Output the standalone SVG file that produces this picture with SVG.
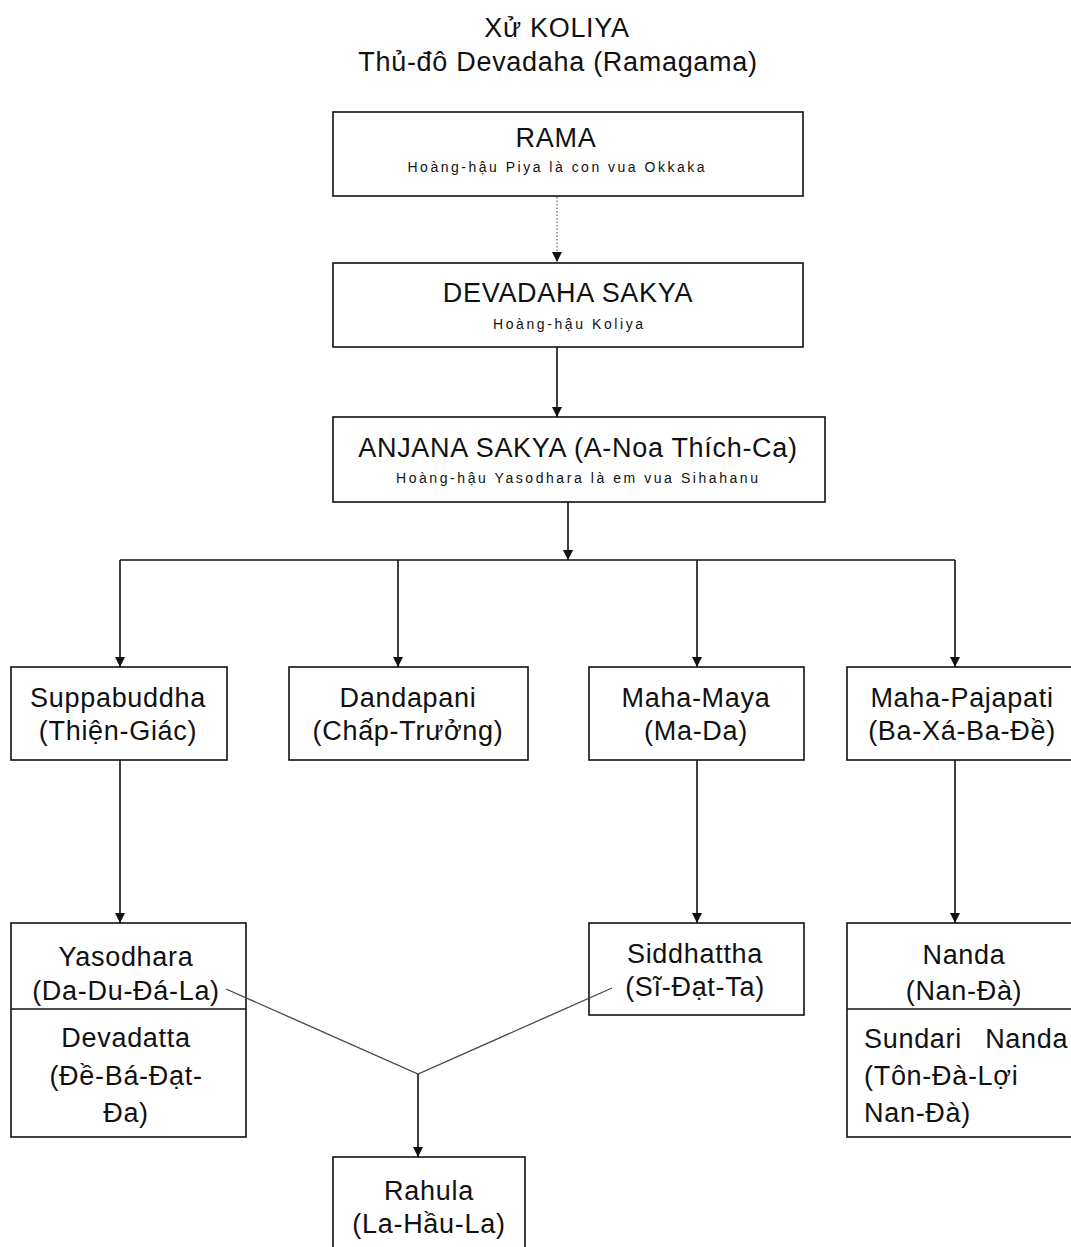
<svg xmlns="http://www.w3.org/2000/svg" width="1071" height="1247" viewBox="0 0 1071 1247">
<style>
text{font-family:"Liberation Sans",Arial,sans-serif;fill:#111;text-anchor:middle}
.t{font-size:27px;letter-spacing:0.7px}
.s{font-size:14px}
.l{text-anchor:start}
.box{fill:#fff;stroke:#111;stroke-width:1.6}
.c{fill:none;stroke:#111;stroke-width:1.6}
.d{fill:none;stroke:#666;stroke-width:1.2;stroke-dasharray:1.5 2}
.g{fill:none;stroke:#444;stroke-width:1.3}
</style>
<defs>
<marker id="ah" markerUnits="userSpaceOnUse" markerWidth="10" markerHeight="12" refX="10" refY="5" orient="auto" viewBox="0 0 10 10">
<path d="M0,0 L10,5 L0,10 z" fill="#111"/>
</marker>
</defs>
<rect width="1071" height="1247" fill="#fff"/>
<g id="title">
<text class="t" x="557" y="37">Xử KOLIYA</text>
<text class="t" x="558" y="71">Thủ-đô Devadaha (Ramagama)</text>
</g>
<g id="rama">
<rect class="box" x="333" y="112" width="470" height="84"/>
<text class="t" x="556" y="147">RAMA</text>
<text class="s" x="556" y="172" textLength="297" lengthAdjust="spacing">Hoàng-hậu Piya là con vua Okkaka</text>
</g>
<g id="devadaha">
<rect class="box" x="333" y="263" width="470" height="84"/>
<text class="t" x="568" y="302">DEVADAHA SAKYA</text>
<text class="s" x="568" y="329" textLength="150" lengthAdjust="spacing">Hoàng-hậu Koliya</text>
</g>
<g id="anjana">
<rect class="box" x="333" y="417" width="492" height="85"/>
<text class="t" x="578" y="457">ANJANA SAKYA (A-Noa Thích-Ca)</text>
<text class="s" x="577" y="483" textLength="362" lengthAdjust="spacing">Hoàng-hậu Yasodhara là em vua Sihahanu</text>
</g>
<g id="suppabuddha">
<rect class="box" x="11" y="667" width="216" height="93"/>
<text class="t" x="118" y="707">Suppabuddha</text>
<text class="t" x="118" y="740">(Thiện-Giác)</text>
</g>
<g id="dandapani">
<rect class="box" x="289" y="667" width="239" height="93"/>
<text class="t" x="408" y="707">Dandapani</text>
<text class="t" x="408" y="740">(Chấp-Trưởng)</text>
</g>
<g id="mahamaya">
<rect class="box" x="589" y="667" width="215" height="93"/>
<text class="t" x="696" y="707">Maha-Maya</text>
<text class="t" x="696" y="740">(Ma-Da)</text>
</g>
<g id="mahapajapati">
<rect class="box" x="847" y="667" width="240" height="93"/>
<text class="t" x="962" y="707">Maha-Pajapati</text>
<text class="t" x="962" y="740">(Ba-Xá-Ba-Đề)</text>
</g>
<g id="yasodhara">
<rect class="box" x="11" y="923" width="235" height="214"/>
<path class="c" d="M11,1009 H246"/>
<text class="t" x="126" y="966">Yasodhara</text>
<text class="t" x="126" y="1000">(Da-Du-Đá-La)</text>
<text class="t" x="126" y="1047">Devadatta</text>
<text class="t" x="126" y="1085">(Đề-Bá-Đạt-</text>
<text class="t" x="126" y="1122">Đa)</text>
</g>
<g id="siddhattha">
<rect class="box" x="589" y="923" width="215" height="92"/>
<text class="t" x="695" y="963">Siddhattha</text>
<text class="t" x="695" y="996">(Sĩ-Đạt-Ta)</text>
</g>
<g id="nanda">
<rect class="box" x="847" y="923" width="240" height="214"/>
<path class="c" d="M847,1009 H1071"/>
<text class="t" x="964" y="964">Nanda</text>
<text class="t" x="964" y="1000">(Nan-Đà)</text>
<text class="t l" x="864" y="1048" word-spacing="15">Sundari Nanda</text>
<text class="t l" x="864" y="1085">(Tôn-Đà-Lợi</text>
<text class="t l" x="864" y="1122">Nan-Đà)</text>
</g>
<g id="rahula">
<rect class="box" x="333" y="1157" width="192" height="100"/>
<text class="t" x="429" y="1200">Rahula</text>
<text class="t" x="429" y="1233">(La-Hầu-La)</text>
</g>
<g id="connectors">
<path class="d" d="M557,197 V262" marker-end="url(#ah)"/>
<path class="c" d="M557,347 V417" marker-end="url(#ah)"/>
<path class="c" d="M568,502 V560" marker-end="url(#ah)"/>
<path class="c" d="M120,560 H955"/>
<path class="c" d="M120,560 V667" marker-end="url(#ah)"/>
<path class="c" d="M398,560 V667" marker-end="url(#ah)"/>
<path class="c" d="M697,560 V667" marker-end="url(#ah)"/>
<path class="c" d="M955,560 V667" marker-end="url(#ah)"/>
<path class="c" d="M120,760 V923" marker-end="url(#ah)"/>
<path class="c" d="M697,760 V923" marker-end="url(#ah)"/>
<path class="c" d="M955,760 V923" marker-end="url(#ah)"/>
<path class="g" d="M226,989 L418,1074 L612,988"/>
<path class="c" d="M418,1074 V1157" marker-end="url(#ah)"/>
</g>
</svg>
